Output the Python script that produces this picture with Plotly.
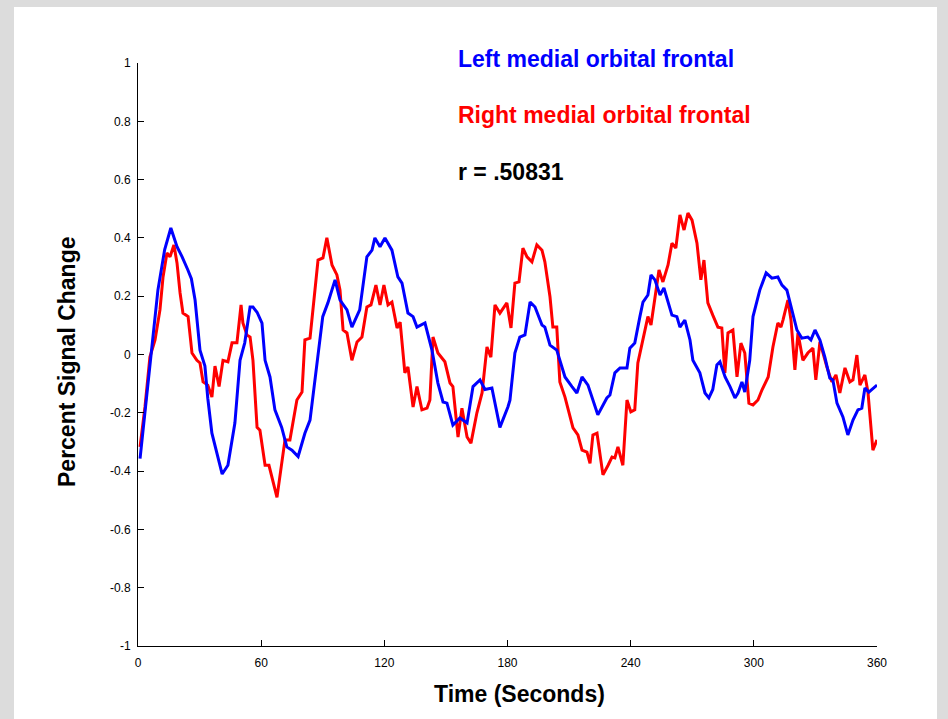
import plotly.graph_objects as go

# ---- data ----
left_t = [1, 5.5, 9.7, 13, 16, 19, 21.5, 24.3, 26, 27.8, 30.2, 32.6, 34, 36, 38.5, 41, 43.8, 47.2, 49.7, 52,
          54.6, 56, 58, 60.4, 61.9, 64.3, 66.7, 70, 72.5, 75, 78, 81.3, 83.8, 87.2, 90, 92.5, 96, 98.4, 101.8,
          104.2, 108, 111.5, 114, 115.4, 117.9, 120.3, 123.7, 126.6, 128.6, 131.5, 134, 135.9, 139.8, 143.2,
          146.1, 148.6, 150.5, 153.4, 156.8, 160.3, 163.2, 166.6, 169, 172.4, 176.3, 180.2, 181.2, 183.6, 186,
          188.5, 191, 193.4, 196.8, 198.2, 200.7, 204, 208, 211.4, 213.8, 216.3, 219.2, 224, 228.4, 229.9,
          232.3, 234.8, 238.2, 239.6, 242, 244.5, 246, 248.4, 249.9, 251.8, 254.3, 256.2, 260.1, 262.5, 264,
          266.4, 268.9, 270.3, 273.7, 276.2, 278.1, 280, 282, 283.5, 286, 288.4, 290.8, 292.3, 294.2, 295.6,
          298, 299.6, 302.9, 306, 308.8, 311.7, 313.7, 316.1, 318.6, 321, 323.4, 326.3, 327.8, 329.8, 332.2,
          334.6, 337, 338.5, 340.5, 343.4, 345.8, 348.3, 350.7, 352.6, 354.1, 356, 360]
left_v = [-0.357, -0.07, 0.221, 0.36, 0.434, 0.37, 0.335, 0.29, 0.26, 0.187, 0.015, -0.04, -0.15, -0.27, -0.34,
          -0.41, -0.38, -0.235, -0.02, 0.04, 0.163, 0.163, 0.145, 0.108, -0.02, -0.077, -0.19, -0.25, -0.317,
          -0.328, -0.35, -0.27, -0.225, -0.02, 0.13, 0.177, 0.256, 0.187, 0.153, 0.094, 0.153, 0.335, 0.358,
          0.40, 0.37, 0.40, 0.358, 0.266, 0.245, 0.142, 0.13, 0.094, 0.108, 0.015, -0.098, -0.163, -0.167,
          -0.242, -0.218, -0.235, -0.11, -0.087, -0.12, -0.115, -0.25, -0.18, -0.157, 0.005, 0.06, 0.067, 0.18,
          0.163, 0.101, 0.094, 0.032, 0.015, -0.077, -0.11, -0.132, -0.077, -0.105, -0.207, -0.149, -0.139,
          -0.063, -0.046, -0.046, 0.022, 0.039, 0.13, 0.18, 0.204, 0.273, 0.256, 0.204, 0.228, 0.135, 0.13,
          0.094, 0.118, 0.05, -0.02, -0.063, -0.132, -0.149, -0.12, -0.036, -0.025, -0.077, -0.11, -0.149,
          -0.132, -0.094, -0.129, -0.02, 0.13, 0.221, 0.28, 0.262, 0.266, 0.238, 0.221, 0.146, 0.084, 0.056,
          0.06, 0.05, 0.084, 0.05, -0.009, -0.081, -0.087, -0.167, -0.214, -0.276, -0.225, -0.19, -0.184,
          -0.115, -0.129, -0.105]

right_t = [1, 3.4, 5.8, 8.3, 10.7, 12.2, 14.1, 15.6, 17.5, 19, 20.5, 21.9, 24.4, 26.3, 28.7, 30.2, 31.7, 34, 36,
           37.5, 39.5, 41.4, 43.8, 45.8, 48.2, 50.2, 51.1, 53.1, 54.6, 56, 58, 59.4, 61.9, 63.8, 67.7, 70.1,
           71.6, 74, 77.4, 79.9, 81.3, 83.8, 86.2, 87.7, 90.1, 92, 94.5, 96.9, 98.4, 99.9, 101.8, 104.2, 106.7,
           109.1, 111.5, 113.5, 115.9, 117.9, 119.8, 121.8, 123.7, 126.2, 127.7, 130, 131.5, 134, 135.9, 138.3,
           140.8, 142.2, 143.7, 146.1, 149.5, 152, 153.4, 155.9, 157.8, 160.3, 162.2, 165.1, 167.6, 170, 171.9,
           173.9, 176.3, 179.7, 181.7, 183.6, 185.6, 187.5, 189.5, 191.9, 194.3, 196.8, 198.2, 200.7, 202.1,
           204, 205.5, 208, 211.9, 214.3, 216.3, 218.7, 220.2, 221.6, 223.6, 226.5, 229, 230.9, 232.3, 233.8,
           236.2, 238.2, 240.1, 242, 243.5, 246, 248.4, 249.9, 251.8, 253.8, 255.7, 258.2, 260.1, 262, 264,
           266, 267.9, 269.9, 272.3, 274.2, 275.7, 277.6, 280, 282.5, 284.4, 285.9, 287.4, 289.8, 291.8, 293.7,
           295.6, 297.6, 299.6, 302, 304, 307, 309.3, 311.7, 313.2, 314.2, 316.6, 318.1, 320, 321.5, 323.9,
           326.3, 328.8, 330.2, 332.2, 335.6, 338, 340, 341.9, 344.4, 346.8, 348.3, 350.2, 351.7, 354.1, 355.6,
           358, 360]
right_v = [-0.317, -0.18, -0.009, 0.05, 0.153, 0.266, 0.348, 0.335, 0.376, 0.314, 0.211, 0.142, 0.13, 0.005,
           -0.02, -0.029, -0.094, -0.105, -0.146, -0.04, -0.11, -0.02, -0.025, 0.04, 0.04, 0.17, 0.108, 0.067,
           0.06, -0.02, -0.25, -0.26, -0.38, -0.38, -0.49, -0.373, -0.293, -0.293, -0.156, -0.129, 0.05, 0.056,
           0.211, 0.324, 0.331, 0.40, 0.307, 0.273, 0.221, 0.084, 0.074, -0.02, 0.043, 0.06, 0.163, 0.17,
           0.238, 0.17, 0.238, 0.17, 0.18, 0.091, 0.111, -0.063, -0.043, -0.18, -0.11, -0.19, -0.184, -0.156,
           0.06, 0.005, -0.025, -0.098, -0.11, -0.283, -0.184, -0.283, -0.304, -0.2, -0.132, 0.026, -0.009,
           0.17, 0.142, 0.177, 0.091, 0.245, 0.249, 0.365, 0.335, 0.318, 0.376, 0.358, 0.318, 0.198, 0.094,
           0.094, -0.094, -0.146, -0.252, -0.276, -0.328, -0.335, -0.373, -0.276, -0.27, -0.413, -0.38, -0.352,
           -0.355, -0.317, -0.38, -0.156, -0.197, -0.19, -0.029, 0.05, 0.13, 0.101, 0.198, 0.29, 0.249, 0.307,
           0.382, 0.365, 0.479, 0.427, 0.485, 0.461, 0.382, 0.256, 0.324, 0.177, 0.135, 0.094, 0.091, -0.063,
           0.074, 0.084, -0.077, 0.039, 0.005, -0.167, -0.173, -0.156, -0.121, -0.077, 0.026, 0.108, 0.094,
           0.118, 0.187, 0.118, -0.053, 0.074, -0.02, 0.005, 0.022, -0.087, 0.043, -0.043, -0.094, -0.07,
           -0.132, -0.046, -0.094, -0.087, -0.002, -0.105, -0.07, -0.129, -0.328, -0.293]

x_ticks = [0, 60, 120, 180, 240, 300, 360]
y_ticks = [1, 0.8, 0.6, 0.4, 0.2, 0, -0.2, -0.4, -0.6, -0.8, -1]
y_tick_text = ["1", "0.8", "0.6", "0.4", "0.2", "0", "-0.2", "-0.4", "-0.6", "-0.8", "-1"]

left_name = "Left medial orbital frontal"
right_name = "Right medial orbital frontal"
r_text = "r = .50831"

# ---- figure ----
W, H = 948, 719
L, R, T, B = 138, 71, 63, 73
pw, ph = W - L - R, H - T - B

def px(x):
    return (x - L) / pw

def py(y):
    return (H - B - y) / ph

fig = go.Figure()
fig.add_trace(go.Scatter(x=right_t, y=right_v, mode="lines", name=right_name,
                         line=dict(color="#ff0000", width=3)))
fig.add_trace(go.Scatter(x=left_t, y=left_v, mode="lines", name=left_name,
                         line=dict(color="#0000ff", width=3)))

font = "Liberation Sans, Arial, sans-serif"

fig.update_layout(
    width=W, height=H,
    margin=dict(l=L, r=R, t=T, b=B),
    paper_bgcolor="#dcdcdc",
    plot_bgcolor="white",
    showlegend=False,
    font=dict(family=font, color="black"),
    xaxis=dict(range=[0, 360], tickvals=x_ticks, showline=True, linecolor="black", linewidth=1,
               ticks="inside", ticklen=6, tickcolor="black", showgrid=False, zeroline=False,
               ticklabelstandoff=6,
               tickfont=dict(size=12, family=font, color="black"), fixedrange=True),
    yaxis=dict(range=[-1, 1], tickvals=y_ticks, ticktext=y_tick_text, showline=True, linecolor="black",
               linewidth=1, ticks="inside", ticklen=6, tickcolor="black", showgrid=False, zeroline=False,
               ticklabelstandoff=4,
               tickfont=dict(size=12, family=font, color="black"), fixedrange=True),
    shapes=[
        dict(type="rect", xref="paper", yref="paper", x0=px(14), x1=px(937), y0=py(730), y1=py(7),
             fillcolor="white", line=dict(width=0), layer="below"),
    ],
    annotations=[
        dict(text="<b>%s</b>" % left_name, xref="paper", yref="paper", x=px(456), y=py(59),
             xanchor="left", yanchor="middle", showarrow=False, font=dict(size=23, color="#0000ff", family=font)),
        dict(text="<b>%s</b>" % right_name, xref="paper", yref="paper", x=px(456), y=py(115),
             xanchor="left", yanchor="middle", showarrow=False, font=dict(size=23, color="#ff0000", family=font)),
        dict(text="<b>%s</b>" % r_text, xref="paper", yref="paper", x=px(456), y=py(172),
             xanchor="left", yanchor="middle", showarrow=False, font=dict(size=23, color="black", family=font)),
        dict(text="<b>Time (Seconds)</b>", xref="paper", yref="paper", x=px(519), y=py(694),
             xanchor="center", yanchor="middle", showarrow=False, font=dict(size=23, color="black", family=font)),
        dict(text="<b>Percent Signal Change</b>", xref="paper", yref="paper", x=px(67), y=py(362),
             xanchor="center", yanchor="middle", textangle=-90, showarrow=False,
             font=dict(size=23, color="black", family=font)),
    ],
)

fig.write_html("out.html")
